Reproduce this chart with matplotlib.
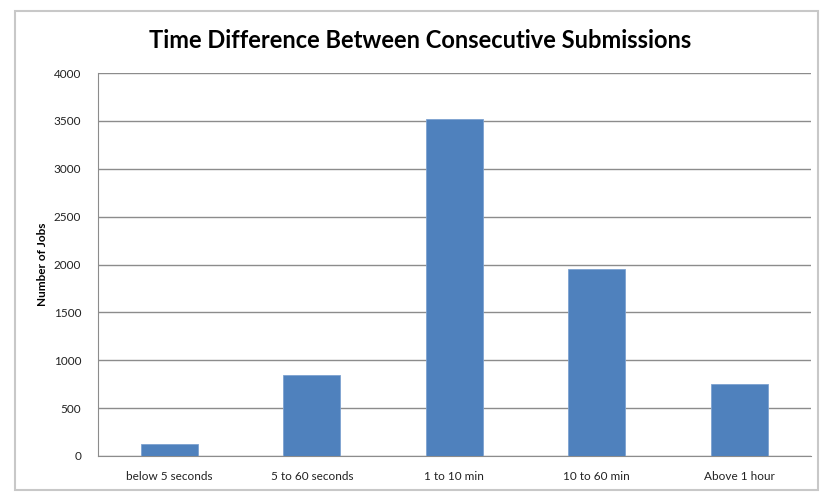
import matplotlib.pyplot as plt
from matplotlib.patches import Rectangle

plt.rcParams['font.family'] = ['Lato', 'DejaVu Sans']

categories = ['below 5 seconds', '5 to 60 seconds', '1 to 10 min', '10 to 60 min', 'Above 1 hour']
jobs = [125, 850, 3520, 1950, 750]
yticks = [0, 500, 1000, 1500, 2000, 2500, 3000, 3500, 4000]

fig = plt.figure(figsize=(8.21, 4.93), dpi=100)

# chart frame
frame = Rectangle((15 / 821, 3 / 493), 803 / 821, 479 / 493, transform=fig.transFigure,
                  fill=False, edgecolor='#c8c8c8', linewidth=1.5)
fig.patches.append(frame)

ax = fig.add_axes([98 / 821, 37 / 493, 712.5 / 821, 383 / 493])
x = range(len(categories))
ax.bar(x, jobs, width=0.4, color='#4f81bd', edgecolor='#7da2d1', linewidth=0.6, zorder=3)
ax.set_xlim(-0.5, len(categories) - 0.5)
ax.set_ylim(0, 4000)
ax.set_yticks(yticks)
ax.set_yticklabels([str(v) for v in yticks], fontsize=8.5, color='#222222')
ax.set_xticks(list(x))
ax.set_xticklabels(categories, fontsize=8.5, color='#222222')
ax.tick_params(axis='y', length=0, pad=12)
ax.tick_params(axis='x', length=0, pad=11)
ax.grid(axis='y', color='#8c8c8c', linewidth=1, zorder=0)
for side in ['top', 'right']:
    ax.spines[side].set_visible(False)
for side in ['left', 'bottom']:
    ax.spines[side].set_color('#8c8c8c')
ax.set_ylabel('Number of Jobs', fontsize=8.5, fontweight='bold', labelpad=4)

fig.text(420 / 821, 1 - 40 / 493, 'Time Difference Between Consecutive Submissions',
         ha='center', va='center', fontsize=17, fontweight='bold')

fig.savefig('out.png', dpi=100)
